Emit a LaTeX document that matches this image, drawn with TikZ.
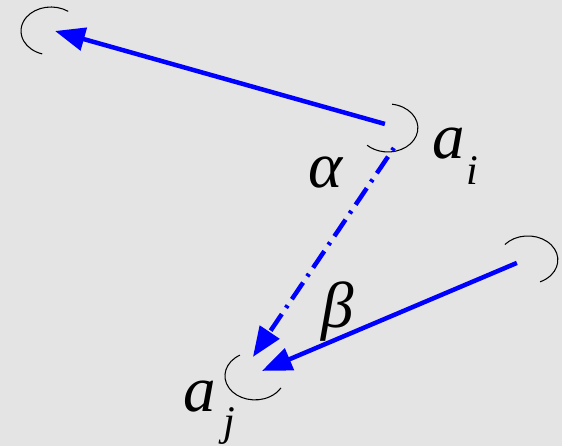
\documentclass[tikz,border=0pt]{standalone}
\usepackage{fontspec}
\setmainfont{Liberation Serif}
\usetikzlibrary{arrows.meta,positioning}
\definecolor{marble}{HTML}{E4E4E4}
\definecolor{ray}{HTML}{0000FF}

\begin{document}
\begin{tikzpicture}[x=0.02cm, y=-0.02cm,
  ring/.style={draw=black, line width=0.6pt},
  arr/.style={-{Triangle[length=0.6cm, width=0.46cm]}, line width=0.09cm, ray},
  dasharr/.style={arr, dash pattern=on 0.06cm off 0.15cm on 0.4cm off 0.15cm},
  sym/.style={font=\fontsize{37}{40}\selectfont\itshape, inner sep=0pt},
  idx/.style={font=\fontsize{24}{26}\selectfont\itshape, inner sep=0pt}
]
\fill[marble] (0,0) rectangle (562,446);

\coordinate (far) at (51,31);
\coordinate (ai) at (388,128);
\coordinate (aj) at (255,376);
\coordinate (right) at (528,260);

\draw[ring] (far) ++(55:0.6cm and 0.48cm) arc[start angle=55, end angle=253, x radius=0.6cm, y radius=0.48cm];
\draw[ring] (ai) ++(82:0.6cm and 0.48cm) arc[start angle=82, end angle=-134, x radius=0.6cm, y radius=0.48cm];
\draw[ring] (aj) ++(120:0.6cm and 0.48cm) arc[start angle=120, end angle=330, x radius=0.6cm, y radius=0.48cm];
\draw[ring] (right) ++(140:0.6cm and 0.48cm) arc[start angle=140, end angle=-66, x radius=0.6cm, y radius=0.48cm];

\coordinate (ai-out) at (385,124);
\coordinate (ai-down) at (394,148);
\coordinate (far-in) at (55,31);
\coordinate (aj-top) at (253,357);
\coordinate (aj-side) at (262,371);
\coordinate (right-out) at (517,263);

\draw[arr] (ai-out) -- (far-in);
\draw[dasharr] (ai-down) -- (aj-top);
\draw[arr] (right-out) -- (aj-side);

\node[sym] (ai-lbl) at (449,144) {a};
\node[idx] (ai-sub) at (472,171) {i};
\node[sym] (alpha) at (326,173) {α};
\node[sym] (beta) at (338,312) {β};
\node[sym] (aj-lbl) at (200,397) {a};
\node[idx] (aj-sub) at (229,426) {j};
\end{tikzpicture}
\end{document}
